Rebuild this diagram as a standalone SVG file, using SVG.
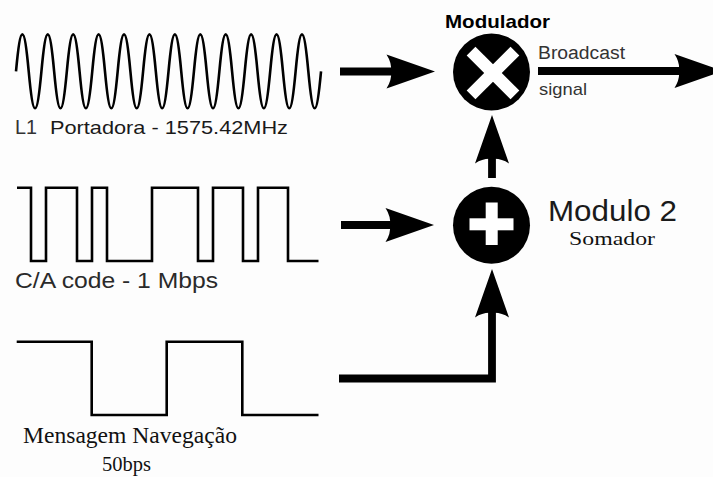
<svg xmlns="http://www.w3.org/2000/svg" width="713" height="477" viewBox="0 0 713 477">
<style>
.wave{fill:none;stroke:#000;stroke-width:2.6;stroke-linejoin:miter}
.conn{fill:none;stroke:#000;stroke-width:7.8;stroke-linecap:butt;stroke-linejoin:miter}
.sans{font-family:"Liberation Sans",Arial,sans-serif;fill:#1a1a1a}
.serif{font-family:"Liberation Serif","Times New Roman",serif;fill:#111}
.sym{fill:#000}
.glyph{fill:#fff}
</style>
<defs>
<path id="head" d="M0,0 L-48.5,-17 Q-43,-8.5 -44,0 Q-43,8.5 -48.5,17 Z" fill="#000"/>
</defs>
<rect width="713" height="477" fill="#fdfdfd"/>

<g id="carrier">
<path class="wave" d="M16,71.3 c4.63,-49.3 8.08,-49.3 12.71,0 c4.63,49.3 8.08,49.3 12.71,0 c4.63,-49.3 8.08,-49.3 12.71,0 c4.63,49.3 8.08,49.3 12.71,0 c4.63,-49.3 8.08,-49.3 12.71,0 c4.63,49.3 8.08,49.3 12.71,0 c4.63,-49.3 8.08,-49.3 12.71,0 c4.63,49.3 8.08,49.3 12.71,0 c4.63,-49.3 8.08,-49.3 12.71,0 c4.63,49.3 8.08,49.3 12.71,0 c4.63,-49.3 8.08,-49.3 12.71,0 c4.63,49.3 8.08,49.3 12.71,0 c4.63,-49.3 8.08,-49.3 12.71,0 c4.63,49.3 8.08,49.3 12.71,0 c4.63,-49.3 8.08,-49.3 12.71,0 c4.63,49.3 8.08,49.3 12.71,0 c4.63,-49.3 8.08,-49.3 12.71,0 c4.63,49.3 8.08,49.3 12.71,0 c4.63,-49.3 8.08,-49.3 12.71,0 c4.63,49.3 8.08,49.3 12.71,0 c4.63,-49.3 8.08,-49.3 12.71,0 c4.63,49.3 8.08,49.3 12.71,0 c4.63,-49.3 8.08,-49.3 12.71,0 c4.63,49.3 8.08,49.3 12.71,0"/>
<text class="sans" x="15" y="134" font-size="21" textLength="22" lengthAdjust="spacingAndGlyphs" style="fill:#333">L1</text>
<text class="sans" x="50" y="133.5" font-size="18.5" textLength="238" lengthAdjust="spacingAndGlyphs">Portadora - 1575.42MHz</text>
</g>

<g id="ca-code">
<path class="wave" d="M17,187.7 H31 V261 H46 V187.7 H77 V261 H92 V187.7 H107 V261 H152 V187.7 H198 V261 H213 V187.7 H243 V261 H258 V187.7 H288 V261 H318.5"/>
<text class="sans" x="15" y="288" font-size="22" textLength="203" lengthAdjust="spacingAndGlyphs" style="fill:#2a2a2a">C/A code - 1 Mbps</text>
</g>

<g id="nav-message">
<path class="wave" d="M16.7,341.7 H91.7 V415 H166.7 V341.7 H242.3 V415 H318.5"/>
<text class="serif" x="23" y="443" font-size="23" textLength="214" lengthAdjust="spacingAndGlyphs">Mensagem Navegação</text>
<text class="serif" x="102" y="471" font-size="22" textLength="49" lengthAdjust="spacingAndGlyphs">50bps</text>
</g>

<g id="modulador">
<circle class="sym" cx="491.5" cy="72" r="38.5"/>
<g transform="translate(493,73) rotate(45)">
<rect class="glyph" x="-31" y="-6.2" width="62" height="12.4"/>
<rect class="glyph" x="-6.2" y="-31" width="12.4" height="62"/>
</g>
<text class="sans" x="445" y="28" font-size="19" font-weight="bold" textLength="105" lengthAdjust="spacingAndGlyphs" style="fill:#000">Modulador</text>
</g>

<g id="somador">
<circle class="sym" cx="491.5" cy="225.3" r="38.5"/>
<rect class="glyph" x="469.5" y="218.3" width="44" height="12"/>
<rect class="glyph" x="485.7" y="202.5" width="12" height="42.5"/>
<text class="sans" x="548" y="221" font-size="29" textLength="129" lengthAdjust="spacingAndGlyphs">Modulo 2</text>
<text class="serif" x="569" y="245" font-size="19.5" textLength="86" lengthAdjust="spacingAndGlyphs">Somador</text>
</g>

<g id="connectors">
<line class="conn" x1="340" y1="71.5" x2="392" y2="71.5"/>
<use href="#head" transform="translate(435,71.5)"/>
<line class="conn" x1="341" y1="225" x2="392" y2="225"/>
<use href="#head" transform="translate(434,225)"/>
<line class="conn" x1="538" y1="71" x2="681" y2="71"/>
<use href="#head" transform="translate(723,71)"/>
<line class="conn" x1="492" y1="178" x2="492" y2="156"/>
<use href="#head" transform="translate(492,115) rotate(-90)"/>
<polyline class="conn" points="339,378.5 492,378.5 492,310"/>
<use href="#head" transform="translate(492,269) rotate(-90)"/>
<text class="sans" x="538" y="59" font-size="18" textLength="87" lengthAdjust="spacingAndGlyphs" style="fill:#333">Broadcast</text>
<text class="sans" x="539" y="95" font-size="17" textLength="48" lengthAdjust="spacingAndGlyphs" style="fill:#333">signal</text>
</g>
</svg>
